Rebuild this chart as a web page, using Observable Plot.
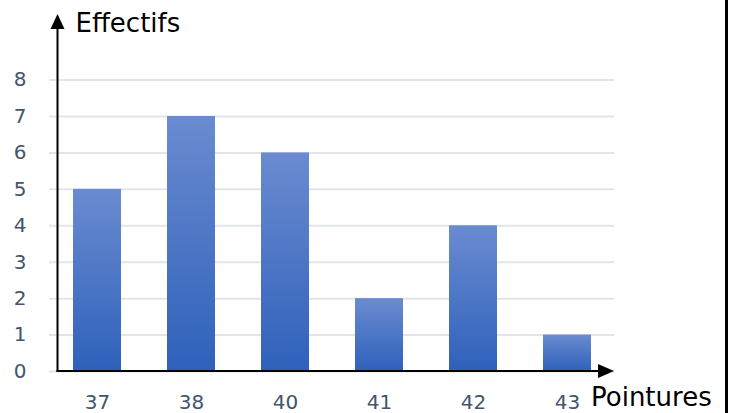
<!DOCTYPE html>
<html>
<head>
<meta charset="utf-8">
<script src="https://cdn.jsdelivr.net/npm/d3@7"></script>
<script src="https://cdn.jsdelivr.net/npm/@observablehq/plot@0.6"></script>
<style>
  html, body { margin: 0; padding: 0; background: #fff; }
</style>
</head>
<body>
<div id="chart"></div>
<script>
const categories = ["37", "38", "40", "41", "42", "43"];
const counts = [5, 7, 6, 2, 4, 1];
const yTicks = [0, 1, 2, 3, 4, 5, 6, 7, 8];
const yLabel = "Effectifs";
const xLabel = "Pointures";

const data = categories.map((c, i) => ({cat: c, n: counts[i]}));

function axesMark(index, scales, values, dim) {
  const g = d3.create("svg:g").attr("text-anchor", "start");
  const x0 = dim.marginLeft + 8.5;
  const yBase = scales.y(0);
  const yTop = scales.y(9.8);
  const xEnd = dim.width - dim.marginRight;
  // y axis line + arrow
  g.append("line").attr("x1", x0).attr("x2", x0).attr("y1", yBase + 1).attr("y2", yTop + 12)
    .attr("stroke", "#000").attr("stroke-width", 2);
  g.append("path").attr("d", `M${x0},${yTop} L${x0 - 7},${yTop + 15} L${x0 + 7},${yTop + 15} Z`).attr("fill", "#000");
  // x axis line + arrow
  g.append("line").attr("x1", x0 - 1).attr("x2", xEnd - 12).attr("y1", yBase).attr("y2", yBase)
    .attr("stroke", "#000").attr("stroke-width", 2);
  g.append("path").attr("d", `M${xEnd},${yBase} L${xEnd - 16},${yBase - 7} L${xEnd - 16},${yBase + 7} Z`).attr("fill", "#000");
  // axis titles
  g.append("text").attr("x", x0 + 18).attr("y", yTop + 18).attr("font-size", 26).attr("fill", "#000")
    .attr("text-anchor", "start").text(yLabel);
  g.append("text").attr("x", xEnd - 23).attr("y", yBase + 35).attr("font-size", 26).attr("fill", "#000")
    .attr("text-anchor", "start").text(xLabel);
  // right border
  g.append("line").attr("x1", dim.width - 4.5).attr("x2", dim.width - 4.5).attr("y1", 0).attr("y2", dim.height)
    .attr("stroke", "#000").attr("stroke-width", 3);
  return g.node();
}

const plot = Plot.plot({
  width: 731,
  height: 413,
  marginLeft: 49,
  marginRight: 117,
  marginTop: 14,
  marginBottom: 42,
  style: {fontFamily: "DejaVu Sans", background: "#fff", overflow: "visible"},
  x: {domain: categories, paddingInner: 0.49, paddingOuter: 0.245, label: null},
  y: {domain: [0, 9.8], label: null},
  marks: [
    Plot.ruleY(yTicks, {stroke: "#e1e5eb", strokeWidth: 2}),
    Plot.barY(data, {x: "cat", y: "n", fill: "url(#barGrad)"}),
    Plot.axisX({tickSize: 0, tickPadding: 23, fontSize: 20, fill: "#44546a", label: null}),
    Plot.axisY(yTicks, {tickSize: 0, tickPadding: 23, fontSize: 20, fill: "#44546a", label: null}),
    axesMark
  ]
});

const svg = d3.select(plot);
const defs = svg.insert("defs", ":first-child");
const grad = defs.append("linearGradient").attr("id", "barGrad")
  .attr("x1", 0).attr("y1", 0).attr("x2", 0).attr("y2", 1);
grad.append("stop").attr("offset", "0%").attr("stop-color", "#6a8bd0");
grad.append("stop").attr("offset", "100%").attr("stop-color", "#2f61bb");

document.getElementById("chart").appendChild(plot);
</script>
</body>
</html>
